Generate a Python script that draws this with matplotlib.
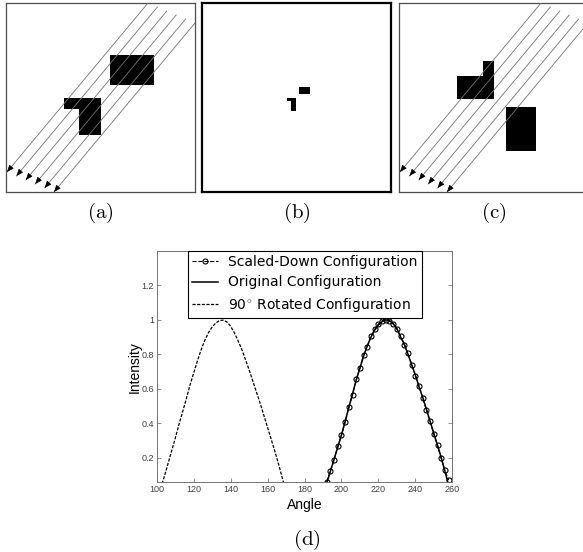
import numpy as np
import matplotlib
matplotlib.use("Agg")
import matplotlib.pyplot as plt
from matplotlib.patches import Rectangle

plt.rcParams['mathtext.fontset'] = 'cm'

# ---- panels (a)-(c): shapes in pixel units of a 189x189 box, y measured from top
box_size = 189
rects_a = [(104, 52, 44, 30), (58, 95, 37, 11), (73, 95, 22, 37)]
rects_b = [(97.3, 83.7, 10.7, 7.6), (85.3, 95.3, 8.7, 2.7), (89, 95.3, 5, 12.7)]
rects_c = [(57.7, 73, 37, 22.7), (84, 58, 10.7, 15), (107.3, 103.7, 30, 44.6)]
ray_start = (142, 0)
ray_end = (1, 169)
ray_shift = (9.4, 4)
n_rays = 6

# ---- panel (d): projection intensity vs angle
rot_angle = [100, 102, 104, 106, 108, 110, 112, 114, 116, 118, 120, 122, 124, 126, 128,
             130, 132, 134, 136, 138, 140, 142, 144, 146, 148, 150, 152, 154, 156, 158,
             160, 162, 164, 166, 168, 170]
rot_val = [-0.055, 0.015, 0.085, 0.16, 0.235, 0.31, 0.39, 0.465, 0.54, 0.62, 0.69, 0.76,
           0.825, 0.88, 0.925, 0.958, 0.982, 0.996, 0.998, 0.988, 0.963, 0.925, 0.88,
           0.83, 0.77, 0.71, 0.645, 0.58, 0.515, 0.445, 0.375, 0.305, 0.235, 0.16, 0.08, 0.0]

orig_angle = [190, 192, 194, 196, 198, 200, 202, 204, 206, 208, 210, 212, 214, 216, 218,
              220, 222, 224, 226, 228, 230, 232, 234, 236, 238, 240, 242, 244, 246, 248,
              250, 252, 254, 256, 258, 260]
orig_val = [-0.02, 0.05, 0.12, 0.19, 0.26, 0.33, 0.41, 0.49, 0.57, 0.65, 0.72, 0.79,
            0.85, 0.90, 0.94, 0.97, 0.99, 1.0, 0.995, 0.98, 0.95, 0.90, 0.86, 0.80,
            0.74, 0.68, 0.61, 0.55, 0.48, 0.41, 0.34, 0.27, 0.20, 0.12, 0.04, -0.04]

scaled_angle = [192, 194, 196, 198, 200, 202, 204, 206, 208, 210, 212, 214, 216, 218, 220,
                222, 224, 226, 228, 230, 232, 234, 236, 238, 240, 242, 244, 246, 248, 250,
                252, 254, 256, 258]
scaled_val = [0.06, 0.12, 0.185, 0.265, 0.33, 0.405, 0.495, 0.565, 0.655, 0.72, 0.795,
              0.845, 0.905, 0.945, 0.975, 0.995, 1.0, 0.995, 0.975, 0.945, 0.905, 0.855,
              0.805, 0.74, 0.675, 0.615, 0.545, 0.475, 0.41, 0.335, 0.27, 0.195, 0.125, 0.07]

fig = plt.figure(figsize=(5.83, 5.52), dpi=100)
W, H = 583.0, 552.0


def draw_panel(left_px, rects, rays, label, edge, lw):
    ax = fig.add_axes([left_px / W, (H - 192) / H, box_size / W, box_size / H])
    ax.set_xlim(0, box_size)
    ax.set_ylim(box_size, 0)
    ax.set_xticks([])
    ax.set_yticks([])
    for s in ax.spines.values():
        s.set_color(edge)
        s.set_linewidth(lw)
    for (x, y, w, h) in rects:
        ax.add_patch(Rectangle((x, y), w, h, facecolor='black', edgecolor='none', zorder=2))
    if rays:
        for k in range(n_rays):
            x0 = ray_start[0] + k * ray_shift[0]
            y0 = ray_start[1] + k * ray_shift[1]
            x1 = ray_end[0] + k * ray_shift[0]
            y1 = ray_end[1] + k * ray_shift[1]
            ax.plot([x0, x1], [y0, y1], color='0.45', lw=0.6, zorder=3)
            ux, uy = (x1 - x0) / 220.0, (y1 - y0) / 220.0
            ax.annotate('', xy=(x1, y1), xytext=(x1 - 6 * ux, y1 - 6 * uy),
                        arrowprops=dict(arrowstyle='-|>,head_length=0.7,head_width=0.28',
                                        color='black', lw=0.5, shrinkA=0, shrinkB=0,
                                        mutation_scale=6),
                        zorder=4, annotation_clip=False)
    fig.text((left_px + box_size / 2) / W, (H - 213) / H, r'$\mathrm{' + label + '}$',
             ha='center', va='center', fontsize=15)
    return ax


draw_panel(6, rects_a, True, '(a)', '0.3', 0.9)
draw_panel(202, rects_b, False, '(b)', 'black', 1.6)
draw_panel(399, rects_c, True, '(c)', '0.3', 0.9)

# ---- panel (d)
ax = fig.add_axes([156.7 / W, (H - 482.3) / H, 295.6 / W, 231.3 / H])
ax.plot(scaled_angle, scaled_val, '--o', color='black', lw=0.8, ms=3.6,
        mfc='none', mew=0.8, label='Scaled-Down Configuration')
ax.plot(orig_angle, orig_val, '-', color='black', lw=1.1, label='Original Configuration')
ax.plot(rot_angle, rot_val, '--', color='black', lw=0.9, dashes=(2.5, 1.2),
        label=r'90$^{\circ}$ Rotated Configuration')

ax.set_xlim(100, 260)
ax.set_ylim(0.056, 1.4)
ax.set_xticks(np.arange(100, 261, 20))
ax.set_yticks([0.2, 0.4, 0.6, 0.8, 1.0, 1.2])
ax.set_yticklabels(['0.2', '0.4', '0.6', '0.8', '1', '1.2'])
ax.tick_params(direction='in', length=3, width=0.5, color='0.4', labelsize=6.5,
               labelcolor='0.25', top=True, right=True, pad=2)
for lab in ax.get_xticklabels() + ax.get_yticklabels():
    lab.set_fontfamily('Liberation Sans')
for s in ax.spines.values():
    s.set_color('0.45')
    s.set_linewidth(0.7)
ax.set_xlabel('Angle', fontsize=10, family='Liberation Sans', labelpad=3)
ax.set_ylabel('Intensity', fontsize=10, family='Liberation Sans', labelpad=0)

leg = ax.legend(loc='upper left', bbox_to_anchor=(0.105, 1.0), borderaxespad=0,
                fancybox=False, framealpha=1, edgecolor='black', fontsize=10,
                handlelength=1.9, handletextpad=0.7, labelspacing=0.45,
                borderpad=0.3)
leg.get_frame().set_linewidth(0.8)

fig.text(307 / W, (H - 540) / H, r'$\mathrm{(d)}$', ha='center', va='center', fontsize=15)

fig.savefig('out.png', dpi=100)
